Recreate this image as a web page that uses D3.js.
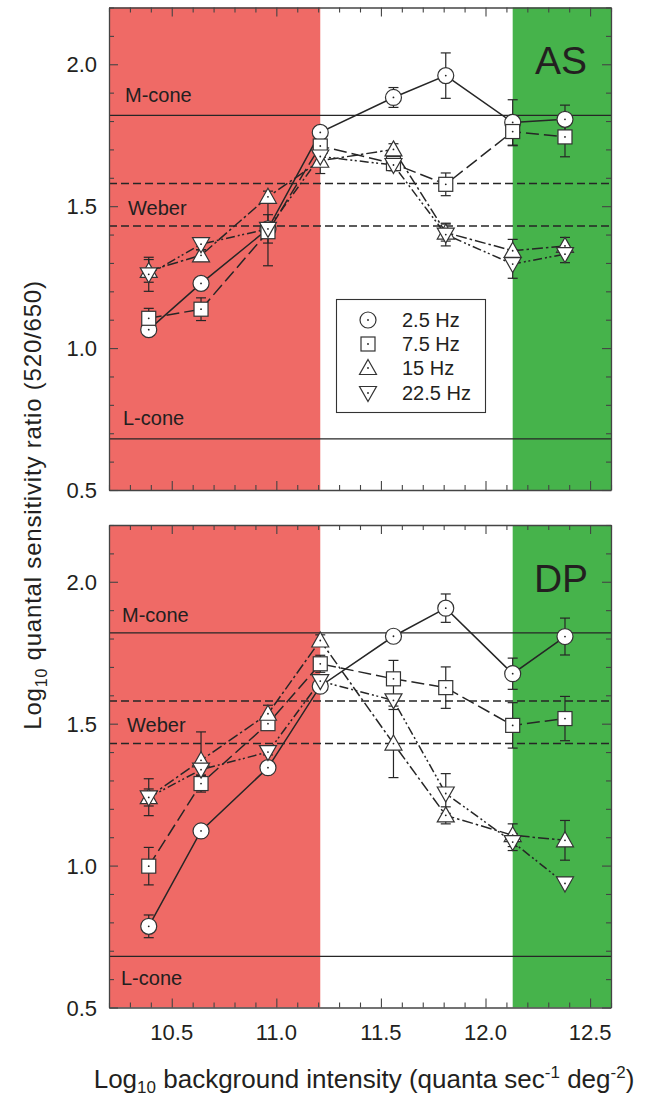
<!DOCTYPE html>
<html>
<head>
<meta charset="utf-8">
<script src="https://cdn.jsdelivr.net/npm/d3@7"></script>
<style>
  html, body { margin: 0; padding: 0; background: #fff; }
  svg text { font-family: "Liberation Sans", Arial, sans-serif; fill: #231f20; }
</style>
</head>
<body>
<svg id="chart" width="655" height="1097"></svg>
<script>
// ---------- DATA ----------
const xValues = [10.39, 10.64, 10.96, 11.21, 11.56, 11.81, 12.13, 12.38];
const seriesNames = ["2.5 Hz", "7.5 Hz", "15 Hz", "22.5 Hz"];

// Subject AS
const as25 = [1.065, 1.228, 1.42, 1.76, 1.883, 1.96, 1.795, 1.806];
const as25Err = [0.02, 0.0, 0.05, 0.02, 0.035, 0.08, 0.08, 0.05];
const as75 = [1.105, 1.137, 1.41, 1.712, 1.65, 1.577, 1.763, 1.744];
const as75Err = [0.035, 0.04, 0.12, 0.03, 0.02, 0.04, 0.05, 0.07];
const as15 = [1.272, 1.327, 1.533, 1.66, 1.70, 1.407, 1.343, 1.36];
const as15Err = [0.04, 0.02, 0.02, 0.02, 0.02, 0.03, 0.04, 0.03];
const as225 = [1.26, 1.366, 1.42, 1.675, 1.645, 1.40, 1.296, 1.331];
const as225Err = [0.06, 0.02, 0.02, 0.06, 0.02, 0.04, 0.05, 0.03];

// Subject DP
const dp25 = [0.786, 1.122, 1.345, 1.632, 1.808, 1.907, 1.676, 1.807];
const dp25Err = [0.04, 0.0, 0.015, 0.015, 0.0, 0.05, 0.055, 0.065];
const dp75 = [0.998, 1.289, 1.50, 1.711, 1.658, 1.627, 1.494, 1.518];
const dp75Err = [0.066, 0.03, 0.02, 0.03, 0.065, 0.073, 0.08, 0.078];
const dp15 = [1.241, 1.371, 1.535, 1.793, 1.43, 1.177, 1.107, 1.089];
const dp15Err = [0.065, 0.10, 0.03, 0.02, 0.12, 0.03, 0.04, 0.07];
const dp225 = [1.24, 1.338, 1.40, 1.65, 1.582, 1.254, 1.083, 0.937];
const dp225Err = [0.03, 0.02, 0.01, 0.02, 0.02, 0.07, 0.03, 0.0];

// Reference lines
const refLines = [
  { name: "M-cone", value: 1.82, dashed: false },
  { name: "Weber", value: 1.58, dashed: true },
  { name: "Weber2", value: 1.43, dashed: true },
  { name: "L-cone", value: 0.68, dashed: false }
];
// Label baselines (in data units) for each panel
const refLabelsAS = [
  { text: "M-cone", value: 1.866, x: 125 },
  { text: "Weber", value: 1.468, x: 128 },
  { text: "L-cone", value: 0.729, x: 123 }
];
const refLabelsDP = [
  { text: "M-cone", value: 1.857, x: 122 },
  { text: "Weber", value: 1.469, x: 127 },
  { text: "L-cone", value: 0.578, x: 121 }
];
// Shaded regions (x extents)
const redRegion = [10.2, 11.21];
const greenRegion = [12.13, 12.6];

const xDomain = [10.2, 12.6];
const yDomain = [0.5, 2.2];
const xTickLabels = [10.5, 11.0, 11.5, 12.0, 12.5];
const yTickLabels = [0.5, 1.0, 1.5, 2.0];

// ---------- LAYOUT ----------
const svg = d3.select("#chart");
const left = 109, right = 611;
const panels = [
  { id: "AS", top: 7.5, bottom: 490, data: [as25, as75, as15, as225], err: [as25Err, as75Err, as15Err, as225Err], labels: refLabelsAS, legend: true },
  { id: "DP", top: 525, bottom: 1007.5, data: [dp25, dp75, dp15, dp225], err: [dp25Err, dp75Err, dp15Err, dp225Err], labels: refLabelsDP, legend: false }
];
const dashes = [null, "13,5", "11,3,2.5,3", "9,3,2,2.5,2,3"];
const shapes = ["circle", "square", "up", "down"];
const ink = "#262626";

const x = d3.scaleLinear().domain(xDomain).range([left, right]);

function drawMarker(g, shape, cx, cy) {
  const m = g.append("g").attr("transform", `translate(${cx},${cy})`);
  const st = { fill: "#fff", stroke: "#333", "stroke-width": 1.2 };
  let el;
  if (shape === "circle") el = m.append("circle").attr("r", 8);
  else if (shape === "square") el = m.append("rect").attr("x", -7).attr("y", -7).attr("width", 14).attr("height", 14);
  else if (shape === "up") el = m.append("path").attr("d", "M0,-8.5L8.5,6.5L-8.5,6.5Z");
  else el = m.append("path").attr("d", "M0,8.5L8.5,-6.5L-8.5,-6.5Z");
  Object.entries(st).forEach(([k, v]) => el.attr(k, v));
  m.append("circle").attr("r", 0.9).attr("fill", "#222");
}

panels.forEach(p => {
  const y = d3.scaleLinear().domain(yDomain).range([p.bottom, p.top]);
  const g = svg.append("g");

  // regions
  g.append("rect").attr("x", x(redRegion[0])).attr("y", p.top)
    .attr("width", x(redRegion[1]) - x(redRegion[0])).attr("height", p.bottom - p.top)
    .attr("fill", "#ef6a66");
  g.append("rect").attr("x", x(greenRegion[0])).attr("y", p.top)
    .attr("width", x(greenRegion[1]) - x(greenRegion[0])).attr("height", p.bottom - p.top)
    .attr("fill", "#46b34b");

  // reference lines
  refLines.forEach(r => {
    g.append("line").attr("x1", left).attr("x2", right)
      .attr("y1", y(r.value)).attr("y2", y(r.value))
      .attr("stroke", ink).attr("stroke-width", 1.4)
      .attr("stroke-dasharray", r.dashed ? "8,4" : null);
  });
  p.labels.forEach(r => {
    g.append("text").attr("x", r.x).attr("y", y(r.value))
      .attr("font-size", 20).text(r.text);
  });

  // panel label
  g.append("text").attr("x", 561).attr("y", y(1.965)).attr("text-anchor", "middle")
    .attr("font-size", 39).text(p.id);

  // series: lines, error bars, markers
  p.data.forEach((vals, si) => {
    const pts = xValues.map((xv, i) => [xv, vals[i], p.err[si][i]]);
    g.append("path").datum(pts)
      .attr("d", d3.line().x(d => x(d[0])).y(d => y(d[1])))
      .attr("fill", "none").attr("stroke", ink).attr("stroke-width", 1.5)
      .attr("stroke-dasharray", dashes[si]);
  });
  p.data.forEach((vals, si) => {
    xValues.forEach((xv, i) => {
      const e = p.err[si][i];
      if (e <= 0) return;
      const cx = x(xv), y1 = y(vals[i] + e), y2 = y(vals[i] - e);
      g.append("line").attr("x1", cx).attr("x2", cx).attr("y1", y1).attr("y2", y2).attr("stroke", ink).attr("stroke-width", 1.2);
      [y1, y2].forEach(yy => g.append("line").attr("x1", cx - 5).attr("x2", cx + 5).attr("y1", yy).attr("y2", yy).attr("stroke", ink).attr("stroke-width", 1.2));
    });
  });
  p.data.forEach((vals, si) => {
    xValues.forEach((xv, i) => drawMarker(g, shapes[si], x(xv), y(vals[i])));
  });

  // axes with inward ticks on all sides
  const yMinor = d3.range(0.5, 2.21, 0.1).map(v => +v.toFixed(1));
  const xMinor = d3.range(10.2, 12.61, 0.1).map(v => +v.toFixed(1));
  const isMajor = v => Math.abs(v * 2 - Math.round(v * 2)) < 1e-6;

  const axL = d3.axisLeft(y).tickValues(yMinor).tickSizeInner(-5).tickSizeOuter(0).tickFormat("");
  const axR = d3.axisRight(y).tickValues(yMinor).tickSizeInner(-5).tickSizeOuter(0).tickFormat("");
  const axB = d3.axisBottom(x).tickValues(xMinor).tickSizeInner(-5).tickSizeOuter(0).tickFormat("");
  const axT = d3.axisTop(x).tickValues(xMinor).tickSizeInner(-5).tickSizeOuter(0).tickFormat("");
  const gl = g.append("g").attr("transform", `translate(${left},0)`).call(axL);
  const gr = g.append("g").attr("transform", `translate(${right},0)`).call(axR);
  const gb = g.append("g").attr("transform", `translate(0,${p.bottom})`).call(axB);
  const gt = g.append("g").attr("transform", `translate(0,${p.top})`).call(axT);
  gl.selectAll(".tick line").filter(d => isMajor(d)).attr("x2", 9);
  gr.selectAll(".tick line").filter(d => isMajor(d)).attr("x2", -9);
  gb.selectAll(".tick line").filter(d => isMajor(d)).attr("y2", -9);
  gt.selectAll(".tick line").filter(d => isMajor(d)).attr("y2", 9);
  [gl, gr, gb, gt].forEach(a => {
    a.selectAll("path.domain").attr("stroke", "#444").attr("stroke-width", 1.3);
    a.selectAll(".tick line").attr("stroke", "#444").attr("stroke-width", 1.1);
  });

  // y tick labels
  yTickLabels.forEach(v => {
    g.append("text").attr("x", 97).attr("y", y(v) + 8).attr("text-anchor", "end")
      .attr("font-size", 22).text(v.toFixed(1));
  });

  // legend
  if (p.legend) {
    const lg = g.append("g");
    lg.append("rect").attr("x", 336.5).attr("y", 299.5).attr("width", 149).attr("height", 113)
      .attr("fill", "#fff").attr("stroke", "#333").attr("stroke-width", 1.1);
    const rowY = [320, 344, 368, 393];
    seriesNames.forEach((n, i) => {
      drawMarker(lg, shapes[i], 368, rowY[i]);
      lg.append("text").attr("x", 402).attr("y", rowY[i] + 7).attr("font-size", 20).text(n);
    });
  }

  // x tick labels only on bottom panel
  if (p.id === "DP") {
    xTickLabels.forEach(v => {
      g.append("text").attr("x", x(v)).attr("y", p.bottom + 32).attr("text-anchor", "middle")
        .attr("font-size", 22).text(v.toFixed(1));
    });
  }
});

// axis titles
const xt = svg.append("text").attr("x", 364).attr("y", 1088).attr("text-anchor", "middle").attr("font-size", 26);
xt.append("tspan").text("Log");
xt.append("tspan").attr("font-size", 17).attr("dy", 5).text("10");
xt.append("tspan").attr("dy", -5).text(" background intensity (quanta sec");
xt.append("tspan").attr("font-size", 17).attr("dy", -10).text("-1");
xt.append("tspan").attr("dy", 10).text(" deg");
xt.append("tspan").attr("font-size", 17).attr("dy", -10).text("-2");
xt.append("tspan").attr("dy", 10).text(")");

const yt = svg.append("text").attr("transform", "translate(41,505) rotate(-90)").attr("text-anchor", "middle")
  .attr("font-size", 24).attr("letter-spacing", 0.8);
yt.append("tspan").text("Log");
yt.append("tspan").attr("font-size", 16).attr("dy", 6).text("10");
yt.append("tspan").attr("dy", -6).text(" quantal sensitivity ratio (520/650)");
</script>
</body>
</html>
